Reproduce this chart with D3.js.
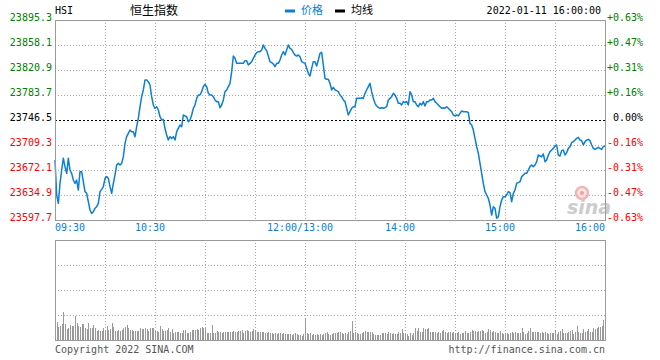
<!DOCTYPE html>
<html><head><meta charset="utf-8">
<script src="https://cdn.jsdelivr.net/npm/d3@7"></script>
<style>body{margin:0;background:#fff}svg{display:block}</style>
</head><body>
<svg id="c" width="660" height="360"></svg>
<script>
// ---- data ----
const symbol = "HSI";
const title = "恒生指数";
const dateLabel = "2022-01-11 16:00:00";
const basePrice = 23746.5;
const priceTicks = [23895.3, 23858.1, 23820.9, 23783.7, 23746.5, 23709.3, 23672.1, 23634.9, 23597.7];
const priceTickLabels = ["23895.3","23858.1","23820.9","23783.7","23746.5","23709.3","23672.1","23634.9","23597.7"];
const pctTickLabels = ["+0.63%","+0.47%","+0.31%","+0.16%","0.00%","-0.16%","-0.31%","-0.47%","-0.63%"];
const timeTickMinutes = [0, 60, 150, 210, 270, 330];
const timeTickLabels = ["09:30","10:30","12:00/13:00","14:00","15:00","16:00"];
const gridMinutes = [30,60,90,120,150,180,210,240,270,300];
// one value per trading minute (09:30 .. 16:00, lunch removed)
const prices = [
23687.0,23634.9,23622.5,23652.3,23672.1,23689.5,23677.1,23667.1,23689.5,23672.1,
23667.1,23657.2,23652.3,23657.2,23642.3,23669.6,23669.6,23654.7,23639.9,23637.4,
23625.0,23612.6,23607.6,23610.1,23615.1,23617.5,23622.5,23639.9,23643.3,23647.3,
23659.7,23662.2,23659.7,23647.3,23637.4,23652.3,23664.7,23679.5,23682.0,23679.5,
23682.0,23691.9,23711.8,23721.7,23726.7,23731.6,23729.1,23729.1,23721.7,23736.6,
23749.0,23766.3,23781.2,23791.2,23806.0,23806.0,23803.5,23798.6,23781.2,23768.8,
23763.9,23766.3,23761.4,23751.4,23746.5,23747.5,23734.1,23724.2,23716.7,23721.7,
23719.2,23721.7,23716.7,23729.1,23734.1,23739.1,23736.6,23753.9,23752.5,23751.4,
23744.0,23746.5,23753.9,23763.9,23768.8,23778.7,23783.7,23783.7,23788.7,23796.1,
23799.6,23796.1,23786.2,23783.7,23783.7,23781.2,23776.3,23773.8,23773.8,23764.8,
23768.8,23776.3,23788.7,23791.2,23796.1,23801.1,23818.4,23841.7,23838.3,23830.8,
23830.8,23830.8,23830.8,23830.8,23834.8,23834.8,23828.3,23830.8,23833.3,23838.3,
23843.2,23846.7,23848.2,23848.2,23850.7,23858.1,23853.1,23849.7,23841.7,23833.3,
23831.8,23829.8,23825.9,23830.8,23830.8,23835.8,23843.2,23848.2,23843.2,23850.7,
23858.1,23853.1,23851.7,23846.7,23843.2,23841.7,23843.2,23840.7,23833.3,23831.8,
23830.8,23823.4,23815.9,23812.0,23823.4,23833.3,23833.3,23826.9,23835.8,23845.7,
23847.2,23828.3,23808.5,23807.0,23807.0,23801.1,23791.2,23795.1,23791.2,23790.2,
23788.7,23783.7,23781.2,23776.3,23773.8,23763.9,23753.9,23758.9,23763.9,23766.3,
23766.3,23778.7,23778.7,23778.7,23779.7,23778.7,23786.2,23791.2,23796.1,23801.1,
23788.7,23778.7,23771.3,23767.3,23765.3,23763.9,23764.8,23763.9,23764.8,23766.3,
23776.3,23778.7,23781.2,23786.2,23783.7,23778.7,23771.3,23771.3,23768.8,23773.8,
23772.3,23773.8,23768.8,23788.7,23783.7,23773.8,23773.8,23768.8,23766.3,23771.3,
23768.8,23773.8,23767.3,23773.8,23773.8,23776.3,23776.3,23778.7,23773.8,23771.3,
23768.8,23766.3,23763.9,23764.8,23763.9,23766.3,23763.9,23761.4,23758.9,23753.9,
23752.5,23753.9,23752.5,23756.4,23759.9,23758.9,23758.9,23758.9,23757.4,23741.5,
23739.1,23731.6,23719.2,23706.8,23696.9,23682.0,23667.1,23652.3,23639.9,23634.9,
23629.9,23620.0,23605.1,23617.5,23615.1,23600.2,23602.7,23617.5,23627.5,23632.4,
23632.4,23634.9,23639.9,23638.4,23625.0,23637.4,23642.3,23652.3,23653.3,23654.7,
23662.2,23664.7,23667.1,23667.1,23672.1,23677.1,23679.5,23677.1,23679.5,23684.5,
23694.4,23692.9,23691.9,23695.9,23684.5,23687.0,23694.4,23699.4,23701.9,23704.3,
23707.8,23709.3,23694.4,23692.9,23700.9,23701.9,23694.4,23697.9,23704.3,23706.8,
23712.8,23714.3,23716.7,23719.2,23720.7,23716.7,23715.7,23709.3,23714.3,23716.7,
23717.7,23715.7,23709.3,23704.3,23702.8,23704.3,23705.8,23704.3,23702.8,23706.8,
23707.8];
// volume per minute (relative units)
const volumes = [
18,18,13,14,16,28,16,11,12,15, 14,14,24,17,14,13,16,16,12,11,
17,12,12,15,12,9,10,9,9,12, 9,14,10,11,17,13,9,9,10,9,
10,12,13,15,12,10,10,9,9,9, 9,12,11,11,12,11,9,12,12,12,
9,9,8,14,11,9,9,10,12,8, 11,7,8,8,8,7,7,10,10,7,
7,8,10,10,10,11,10,12,13,12, 12,7,7,7,15,7,7,9,8,8,
7,8,8,8,8,8,8,9,8,8, 9,9,10,7,9,10,9,8,9,11,
10,8,8,8,8,8,7,7,8,7, 7,6,7,6,7,7,6,7,6,6,
6,6,5,6,7,6,5,5,4,6, 22,7,6,7,5,6,5,6,5,6,
5,6,7,8,6,5,
6,7,7,7,8,8,7,6,7,6,8,9,19,
7,8,7,6,6,7,8,9,8,8,8,8,6,5,5,5,5,7,7,7,6,8,7,6,7,6,6,8,7,11,
7,6,6,4,7,5,7,12,9,12,8,8,12,11,11,12,8,8,8,8,7,8,7,9,10,8,7,8,8,7,
8,7,7,8,6,7,7,9,7,7,8,10,9,9,8,9,9,10,9,7,8,11,10,8,9,8,7,7,9,7,
6,7,7,6,7,8,7,8,7,7,7,12,8,6,7,9,12,8,8,8,8,8,7,8,7,8,7,6,7,7,
7,10,6,8,9,11,7,7,7,8,9,10,6,8,14,8,7,7,11,8,9,11,8,8,12,11,12,13,13,14,20,22];

// ---- layout ----
const svg = d3.select("#c");
const L = 55, R = 605, T = 20, B = 220, VT = 240, VB = 340;
const mono = "'DejaVu Sans Mono', monospace";
const cjk = "'Noto Sans CJK SC', sans-serif";
const green = "#008000", red = "#ff0000", blue = "#0a7fd4", grid = "#a8a8a8", border = "#9a9a9a";

const x = d3.scaleLinear().domain([0, 330]).range([L, R]);
const y = d3.scaleLinear().domain([23597.7, 23895.3]).range([B, T]);
const yv = d3.scaleLinear().domain([0, 100]).range([VB, VT]);
const minutes = d3.range(prices.length);
const snap = v => Math.round(v) + 0.5;

// header
svg.append("text").attr("x", L).attr("y", 14).attr("font-family", mono).attr("font-size", 10).attr("fill", "#000").text(symbol);
svg.append("text").attr("x", 130).attr("y", 15).attr("font-family", cjk).attr("font-size", 12).attr("fill", "#000").text(title);
svg.append("rect").attr("x", 285).attr("y", 9.5).attr("width", 10).attr("height", 3).attr("fill", blue);
svg.append("text").attr("x", 301).attr("y", 14).attr("font-family", cjk).attr("font-size", 11).attr("fill", blue).text("价格");
svg.append("rect").attr("x", 335).attr("y", 9.5).attr("width", 10).attr("height", 3).attr("fill", "#000");
svg.append("text").attr("x", 351).attr("y", 14).attr("font-family", cjk).attr("font-size", 11).attr("fill", "#000").text("均线");
svg.append("text").attr("x", 601).attr("y", 14).attr("text-anchor", "end").attr("font-family", mono).attr("font-size", 10).attr("fill", "#000").text(dateLabel);

// grids
function vgrid(top, bot) {
  svg.append("g").selectAll("line").data(gridMinutes).join("line")
    .attr("x1", d => snap(x(d))).attr("x2", d => snap(x(d)))
    .attr("y1", top).attr("y2", bot)
    .attr("stroke", grid).attr("stroke-dasharray", "1,2").attr("shape-rendering", "crispEdges");
}
vgrid(T, B); vgrid(VT, VB);
svg.append("g").selectAll("line").data(priceTicks.filter((d, i) => i > 0 && i < priceTicks.length - 1 && d !== basePrice)).join("line")
  .attr("x1", L).attr("x2", R).attr("y1", d => snap(y(d))).attr("y2", d => snap(y(d)))
  .attr("stroke", grid).attr("stroke-dasharray", "1,2").attr("shape-rendering", "crispEdges");
svg.append("g").selectAll("line").data([25, 50, 75]).join("line")
  .attr("x1", L).attr("x2", R).attr("y1", d => snap(yv(d))).attr("y2", d => snap(yv(d)))
  .attr("stroke", grid).attr("stroke-dasharray", "1,2").attr("shape-rendering", "crispEdges");

// base line
svg.append("line").attr("x1", L).attr("x2", R).attr("y1", snap(y(basePrice))).attr("y2", snap(y(basePrice)))
  .attr("stroke", "#000").attr("stroke-dasharray", "2,2").attr("shape-rendering", "crispEdges");

// watermark
const wm = svg.append("g").attr("opacity", 0.85);
wm.append("circle").attr("cx", 582).attr("cy", 193).attr("r", 6).attr("fill", "#fbe0e0").attr("stroke", "#f0a8a8").attr("stroke-width", 2.5);
wm.append("circle").attr("cx", 582).attr("cy", 193).attr("r", 2).attr("fill", "#e89090");
wm.append("text").attr("x", 567).attr("y", 214).attr("font-family", "'DejaVu Sans', sans-serif").attr("font-weight", "bold").attr("font-style", "italic").attr("font-size", 19).attr("fill", "#c4c4c4").text("sina");

// price line
svg.append("path").datum(prices)
  .attr("d", d3.line().x((d, i) => x(minutes[i])).y(d => y(d)))
  .attr("fill", "none").attr("stroke", blue).attr("stroke-width", 1.5).attr("stroke-linejoin", "round");

// volume bars
svg.append("g").selectAll("rect").data(volumes).join("rect")
  .attr("x", (d, i) => Math.round(x(minutes[i]))).attr("width", 1)
  .attr("y", d => yv(d)).attr("height", d => VB - yv(d))
  .attr("fill", "#999").attr("shape-rendering", "crispEdges");

// borders
[[T, B], [VT, VB]].forEach(([t, b]) => {
  svg.append("rect").attr("x", L + 0.5).attr("y", t + 0.5).attr("width", R - L).attr("height", b - t)
    .attr("fill", "none").attr("stroke", border).attr("shape-rendering", "crispEdges");
});

// left axis labels
svg.append("g").selectAll("text").data(priceTicks).join("text")
  .attr("x", 52).attr("y", d => y(d) + 0.5).attr("text-anchor", "end")
  .attr("font-family", mono).attr("font-size", 10)
  .attr("fill", d => d > basePrice ? green : (d < basePrice ? red : "#000"))
  .text((d, i) => priceTickLabels[i]);
// right axis labels
svg.append("g").selectAll("text").data(priceTicks).join("text")
  .attr("x", 643).attr("y", d => y(d) + 0.5).attr("text-anchor", "end")
  .attr("font-family", mono).attr("font-size", 10)
  .attr("fill", d => d > basePrice ? green : (d < basePrice ? red : "#000"))
  .text((d, i) => pctTickLabels[i]);
// time labels
svg.append("g").selectAll("text").data(timeTickMinutes).join("text")
  .attr("x", (d, i) => i === 0 ? x(d) : (i === timeTickMinutes.length - 1 ? x(d) : x(d) - 5))
  .attr("y", 231)
  .attr("text-anchor", (d, i) => i === 0 ? "start" : (i === timeTickMinutes.length - 1 ? "end" : "middle"))
  .attr("font-family", mono).attr("font-size", 10).attr("fill", blue)
  .text((d, i) => timeTickLabels[i]);

// footer
svg.append("text").attr("x", L).attr("y", 353).attr("font-family", mono).attr("font-size", 10).attr("fill", "#555").text("Copyright 2022 SINA.COM");
svg.append("text").attr("x", R).attr("y", 353).attr("text-anchor", "end").attr("font-family", mono).attr("font-size", 10).attr("fill", "#555").text("http://finance.sina.com.cn");
</script>
</body></html>
